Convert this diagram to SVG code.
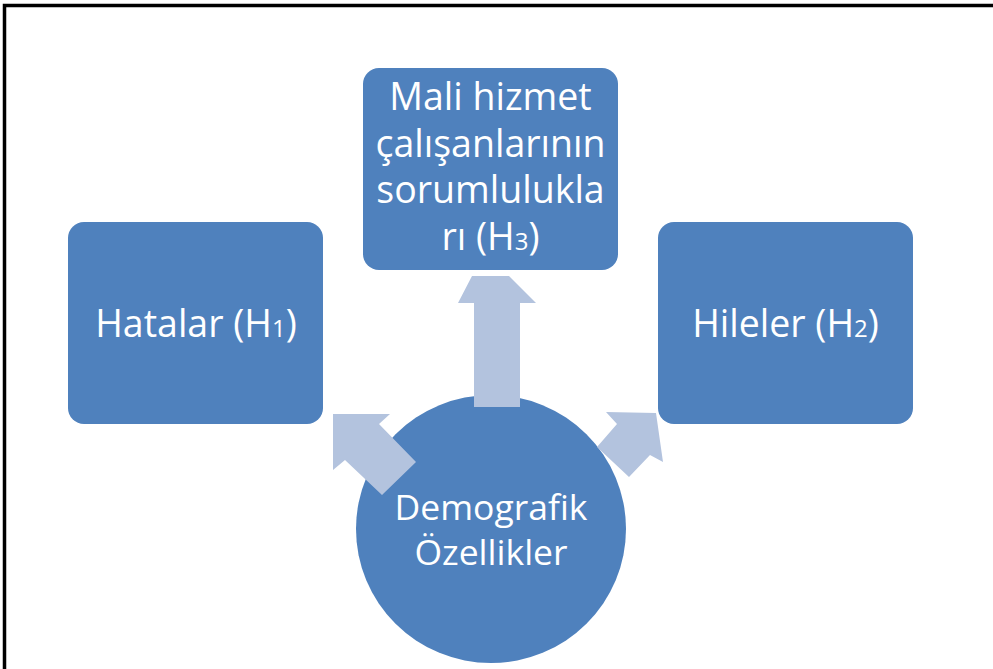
<svg xmlns="http://www.w3.org/2000/svg" width="993" height="669" viewBox="0 0 993 669">
  <style>
    .box { fill: #4F81BD; }
    .arrow { fill: #B3C3DE; }
    .label { font-family: "Open Sans", "Noto Sans", sans-serif; font-size: 37.5px; fill: #FFFFFF; text-anchor: middle; }
    .center { font-size: 35.5px; }
    .sub { font-size: 24px; }
  </style>
  <rect width="993" height="669" fill="#FFFFFF"/>
  <!-- page frame: top and left rules -->
  <path d="M4.5 669 V5.5 H993" fill="none" stroke="#000000" stroke-width="3.5"/>

  <g id="node-hatalar">
    <rect class="box" x="68" y="222" width="255" height="202" rx="16"/>
    <text class="label" x="196" y="337">Hatalar (H<tspan class="sub">1</tspan>)</text>
  </g>
  <g id="node-hileler">
    <rect class="box" x="658" y="222" width="255" height="202" rx="16"/>
    <text class="label" x="785.5" y="337">Hileler (H<tspan class="sub">2</tspan>)</text>
  </g>
  <g id="node-sorumluluk">
    <rect class="box" x="363" y="68" width="255" height="202" rx="16"/>
    <text class="label" x="490.5" y="110">Mali hizmet</text>
    <text class="label" x="490.5" y="157">çalışanlarının</text>
    <text class="label" x="490.5" y="203">sorumlulukla</text>
    <text class="label" x="490.5" y="250">rı (H<tspan class="sub">3</tspan>)</text>
  </g>
  <g id="node-demografik">
    <ellipse class="box" cx="491" cy="529" rx="135" ry="134"/>
    <text class="label center" x="491" y="520">Demografik</text>
    <text class="label center" x="491" y="565">Özellikler</text>
  </g>

  <g id="connectors">
    <!-- up to H3 -->
    <polygon class="arrow" points="474,407 474,303 458,303 472,276 509,276 536,303 520,303 520,407"/>
    <!-- up-left to H1 -->
    <polygon class="arrow" points="416,462 379,424 390,414 333,414 333,470 345,460 382,495"/>
    <!-- up-right to H2 -->
    <polygon class="arrow" points="597,447 617,424 606,412 656,413 663,462 650,455 629,477"/>
  </g>
</svg>
